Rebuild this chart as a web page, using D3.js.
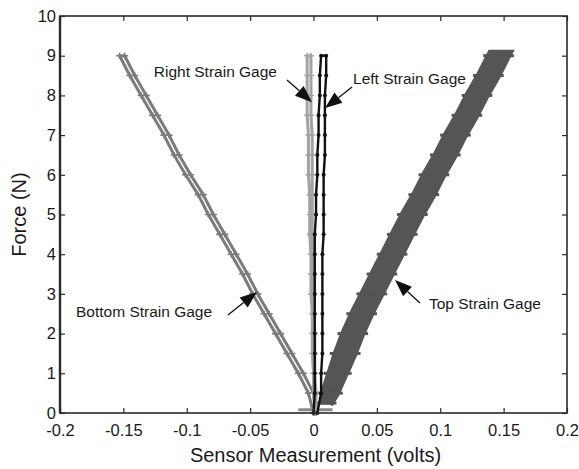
<!DOCTYPE html>
<html>
<head>
<meta charset="utf-8">
<script src="https://cdn.jsdelivr.net/npm/d3@7"></script>
<style>
  html, body { margin: 0; padding: 0; background: #fff; }
  svg { display: block; font-family: "Liberation Sans", Arial, sans-serif; }
</style>
</head>
<body>
<svg id="chart" width="579" height="469"></svg>
<script>
// ---- data ----
const xTicks = [-0.2, -0.15, -0.1, -0.05, 0, 0.05, 0.1, 0.15, 0.2];
const xTickLabels = ["-0.2", "-0.15", "-0.1", "-0.05", "0", "0.05", "0.1", "0.15", "0.2"];
const yTicks = [0, 1, 2, 3, 4, 5, 6, 7, 8, 9, 10];
const yTickLabels = ["0", "1", "2", "3", "4", "5", "6", "7", "8", "9", "10"];

const forceSteps = [0, 0.5, 1, 1.5, 2, 2.5, 3, 3.5, 4, 4.5, 5, 5.5, 6, 6.5, 7, 7.5, 8, 8.5, 9];

// Bottom strain gage (two branches)
const bottomOuterX = [0.000, -0.004, -0.012, -0.021, -0.030, -0.039, -0.048, -0.056, -0.065, -0.074, -0.083, -0.091, -0.101, -0.110, -0.118, -0.127, -0.136, -0.145, -0.153];
const bottomInnerX = [0.002, 0.000, -0.008, -0.017, -0.026, -0.035, -0.044, -0.052, -0.061, -0.070, -0.079, -0.087, -0.097, -0.106, -0.114, -0.123, -0.132, -0.141, -0.149];

// Top strain gage (two branches, thick band)
const topForce = [0.25, 0.5, 1, 1.5, 2, 2.5, 3, 3.5, 4, 4.5, 5, 5.5, 6, 6.5, 7, 7.5, 8, 8.5, 9];
const topLeftX = [0.009, 0.010, 0.015, 0.020, 0.026, 0.033, 0.041, 0.049, 0.057, 0.065, 0.073, 0.082, 0.090, 0.099, 0.107, 0.116, 0.124, 0.133, 0.141];
const topRightX = [0.011, 0.016, 0.023, 0.030, 0.036, 0.043, 0.051, 0.059, 0.067, 0.075, 0.083, 0.092, 0.100, 0.109, 0.117, 0.126, 0.134, 0.143, 0.151];

// Right strain gage (light gray)
const rightUpX = [0.001, 0.000, 0.000, -0.001, -0.001, -0.001, -0.002, -0.002, -0.002, -0.003, -0.003, -0.003, -0.004, -0.004, -0.004, -0.005, -0.005, -0.005, -0.005];
const rightDownX = [0.002, 0.002, 0.001, 0.001, 0.001, 0.000, 0.000, 0.000, 0.000, -0.001, -0.001, -0.001, -0.001, -0.001, -0.001, -0.002, -0.002, -0.002, -0.002];

// Left strain gage (black)
const leftUpX = [0.000, 0.001, 0.001, 0.001, 0.001, 0.001, 0.001, 0.001, 0.001, 0.001, 0.002, 0.002, 0.003, 0.003, 0.004, 0.004, 0.005, 0.005, 0.006];
const leftDownX = [0.003, 0.006, 0.006, 0.007, 0.007, 0.007, 0.007, 0.007, 0.007, 0.008, 0.008, 0.008, 0.008, 0.009, 0.009, 0.009, 0.009, 0.010, 0.010];

// small baseline smear at zero force
const baseX = [-0.012, 0.015];
const baseF = [0.08, 0.08];

// annotations (data units)
const annoLabels = ["Right Strain Gage", "Left Strain Gage", "Bottom Strain Gage", "Top Strain Gage"];
const annoTextX = [-0.0288, 0.0312, -0.1874, 0.0911];
const annoTextF = [8.46, 8.29, 2.42, 2.62];
const annoAnchor = ["end", "start", "start", "start"];
const annoTailX = [-0.0209, 0.0304, -0.0675, 0.0840];
const annoTailF = [8.39, 8.21, 2.47, 2.77];
const annoTipX = [-0.0012, 0.0091, -0.0446, 0.0643];
const annoTipF = [7.83, 7.68, 3.05, 3.35];

// ---- layout ----
const svg = d3.select("#chart");
const L = 60, R = 567, T = 16, B = 413;
const x = d3.scaleLinear().domain([-0.2, 0.2]).range([L, R]);
const y = d3.scaleLinear().domain([0, 10]).range([B, T]);

const line = d3.line().x(d => x(d[0])).y(d => y(d[1]));

function zipXY(xs, fs) { return xs.map((v, i) => [v, fs[i]]); }
function loop(upX, downX, fs) {
  const up = zipXY(upX, fs);
  const down = zipXY(downX, fs).reverse();
  return up.concat(down);
}

const plot = svg.append("g");

// Bottom gauge
const bottomPts = loop(bottomOuterX, bottomInnerX, forceSteps);
plot.append("path").datum(bottomPts).attr("d", line)
  .attr("fill", "none").attr("stroke", "#7b7b7b").attr("stroke-width", 3).attr("stroke-linejoin", "round");
plot.selectAll(".bm").data(bottomPts).enter().append("path")
  .attr("transform", d => `translate(${x(d[0])},${y(d[1])})`)
  .attr("d", "M-3.5,0H3.5M0,-3V3").attr("stroke", "#7b7b7b").attr("stroke-width", 1.6);

// baseline smear
plot.append("path").datum(zipXY(baseX, baseF)).attr("d", line)
  .attr("fill", "none").attr("stroke", "#8a8a8a").attr("stroke-width", 3);

// Top gauge
const topPts = loop(topLeftX, topRightX, topForce);
plot.append("path").datum(topPts).attr("d", line)
  .attr("fill", "none").attr("stroke", "#555").attr("stroke-width", 12).attr("stroke-linejoin", "miter");
plot.selectAll(".tm").data(topPts).enter().append("path")
  .attr("transform", d => `translate(${x(d[0])},${y(d[1])})`)
  .attr("d", "M-9,0H9").attr("stroke", "#555").attr("stroke-width", 3);

// Right gauge (light gray)
const rightPts = loop(rightUpX, rightDownX, forceSteps);
plot.append("path").datum(rightPts).attr("d", line)
  .attr("fill", "none").attr("stroke", "#a2a2a2").attr("stroke-width", 3).attr("stroke-linejoin", "round");
plot.selectAll(".rm").data(rightPts).enter().append("path")
  .attr("transform", d => `translate(${x(d[0])},${y(d[1])})`)
  .attr("d", "M-3,0H3M0,-3V3").attr("stroke", "#a2a2a2").attr("stroke-width", 1.5);

// Left gauge (black)
const leftPts = loop(leftUpX, leftDownX, forceSteps);
plot.append("path").datum(leftPts).attr("d", line)
  .attr("fill", "none").attr("stroke", "#111").attr("stroke-width", 2.4).attr("stroke-linejoin", "round");
plot.selectAll(".lm").data(leftPts).enter().append("circle")
  .attr("cx", d => x(d[0])).attr("cy", d => y(d[1])).attr("r", 2).attr("fill", "#111");

// ---- axes box ----
const axisColor = "#2a2a2a";
function styleAxis(g) {
  g.select(".domain").remove();
  g.selectAll(".tick line").attr("stroke", axisColor).attr("stroke-width", 1.2);
  g.selectAll(".tick text").attr("fill", "#1a1a1a").style("font-size", "16.5px")
    .style("font-family", "'Liberation Sans', Arial, sans-serif");
}
svg.append("g").attr("transform", `translate(0,${B})`)
  .call(d3.axisBottom(x).tickValues(xTicks).tickFormat((d, i) => xTickLabels[i]).tickSizeInner(-5).tickSizeOuter(0).tickPadding(11))
  .call(styleAxis);
svg.append("g").attr("transform", `translate(0,${T})`)
  .call(d3.axisTop(x).tickValues(xTicks).tickFormat("").tickSizeInner(-5).tickSizeOuter(0))
  .call(styleAxis);
svg.append("g").attr("transform", `translate(${L},0)`)
  .call(d3.axisLeft(y).tickValues(yTicks).tickFormat((d, i) => yTickLabels[i]).tickSizeInner(-5).tickSizeOuter(0).tickPadding(4))
  .call(styleAxis);
svg.append("g").attr("transform", `translate(${R},0)`)
  .call(d3.axisRight(y).tickValues(yTicks).tickFormat("").tickSizeInner(-5).tickSizeOuter(0))
  .call(styleAxis);

svg.append("rect").attr("x", L).attr("y", T).attr("width", R - L).attr("height", B - T)
  .attr("fill", "none").attr("stroke", axisColor).attr("stroke-width", 1.6);
svg.append("line").attr("x1", L).attr("x2", L).attr("y1", T).attr("y2", B)
  .attr("stroke", axisColor).attr("stroke-width", 2.4);

// ---- axis titles ----
svg.append("text").attr("x", (L + R) / 2 + 2).attr("y", 462).attr("text-anchor", "middle")
  .attr("fill", "#1a1a1a").style("font-size", "20px").text("Sensor Measurement (volts)");
svg.append("text").attr("transform", `translate(26,${(T + B) / 2}) rotate(-90)`).attr("text-anchor", "middle")
  .attr("fill", "#1a1a1a").style("font-size", "20px").text("Force (N)");

// ---- annotations ----
const anno = svg.append("g");
annoLabels.forEach((lab, i) => {
  anno.append("text").attr("x", x(annoTextX[i])).attr("y", y(annoTextF[i]))
    .attr("text-anchor", annoAnchor[i]).attr("fill", "#1a1a1a").style("font-size", "15.5px").text(lab);
  const x0 = x(annoTailX[i]), y0 = y(annoTailF[i]);
  const x1 = x(annoTipX[i]), y1 = y(annoTipF[i]);
  const ang = Math.atan2(y1 - y0, x1 - x0);
  const headLen = 17, headW = 6.5;
  const bx = x1 - headLen * Math.cos(ang), by = y1 - headLen * Math.sin(ang);
  anno.append("line").attr("x1", x0).attr("y1", y0).attr("x2", bx).attr("y2", by)
    .attr("stroke", "#111").attr("stroke-width", 1.3);
  const px = -Math.sin(ang) * headW, py = Math.cos(ang) * headW;
  anno.append("path")
    .attr("d", `M${x1},${y1}L${bx + px},${by + py}L${bx - px},${by - py}Z`)
    .attr("fill", "#111");
});
</script>
</body>
</html>
